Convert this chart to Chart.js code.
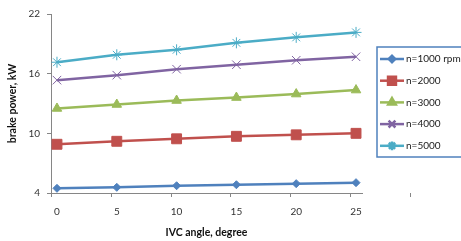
<!DOCTYPE html>
<html>
<head>
<meta charset="utf-8">
<script src="https://cdn.jsdelivr.net/npm/chart.js@4.4.0/dist/chart.umd.min.js"></script>
<style>
  html, body { margin: 0; padding: 0; background: #fff; }
  #wrap { width: 461px; height: 241px; }
</style>
</head>
<body>
<div id="wrap"><canvas id="chart"></canvas></div>
<script>
// x categories (IVC angle, degree)
const angles = [0, 5, 10, 15, 20, 25];
// brake power, kW
const n1000 = [4.47, 4.57, 4.73, 4.83, 4.94, 5.04];
const n2000 = [8.9, 9.2, 9.45, 9.7, 9.85, 10.0];
const n3000 = [12.5, 12.9, 13.3, 13.6, 13.95, 14.35];
const n4000 = [15.35, 15.85, 16.45, 16.9, 17.35, 17.7];
const n5000 = [17.15, 17.9, 18.4, 19.1, 19.65, 20.15];
const seriesLabels = ['n=1000 rpm', 'n=2000', 'n=3000', 'n=4000', 'n=5000'];
const yTicks = [4, 10, 16, 22];

const font = 'Lato, "Open Sans", sans-serif';

function pts(vals) {
  return vals.map((v, i) => ({ x: angles[i], y: v }));
}

function series(label, vals, color, style, radius, bw) {
  return {
    label: label,
    data: pts(vals),
    borderColor: color,
    backgroundColor: color,
    borderWidth: 2.5,
    pointStyle: style,
    pointRadius: radius,
    pointHoverRadius: radius,
    pointBorderWidth: bw,
    pointBorderColor: color,
    pointBackgroundColor: color,
    tension: 0
  };
}

// excel puts the x tick marks half a unit left of each point
const xTickMarks = {
  id: 'xTickMarks',
  afterDraw(chart) {
    const ctx = chart.ctx;
    const xs = chart.scales.x;
    const yb = chart.chartArea.bottom;
    ctx.save();
    ctx.strokeStyle = '#868686';
    ctx.lineWidth = 1;
    angles.concat([angles[angles.length - 1] + 5]).forEach(a => {
      const px = Math.round(xs.getPixelForValue(a - 0.5)) + 0.5;
      ctx.beginPath();
      ctx.moveTo(px, yb);
      ctx.lineTo(px, yb + 4);
      ctx.stroke();
    });
    ctx.restore();
  }
};

// boxed legend on the right, partly cut off like the original
const boxLegend = {
  id: 'boxLegend',
  afterDraw(chart) {
    const ctx = chart.ctx;
    const x0 = 377, y0 = 47, w = 100, h = 110;
    ctx.save();
    ctx.strokeStyle = '#4f81bd';
    ctx.lineWidth = 1.5;
    ctx.strokeRect(x0, y0, w, h);
    chart.data.datasets.forEach((ds, i) => {
      const y = 59 + i * 21.7;
      ctx.strokeStyle = ds.borderColor;
      ctx.fillStyle = ds.borderColor;
      ctx.lineWidth = 2.5;
      ctx.beginPath();
      ctx.moveTo(380, y);
      ctx.lineTo(404, y);
      ctx.stroke();
      Chart.helpers.drawPoint(ctx, {
        pointStyle: ds.pointStyle,
        radius: ds.pointRadius * 0.8,
        borderWidth: ds.pointBorderWidth,
        rotation: 0
      }, 392, y);
      ctx.fillStyle = '#222';
      ctx.font = '10px ' + font;
      ctx.textBaseline = 'middle';
      ctx.textAlign = 'left';
      ctx.fillText(ds.label, 406, y);
    });
    ctx.restore();
  }
};

new Chart(document.getElementById('chart'), {
  type: 'line',
  data: {
    datasets: [
      series(seriesLabels[0], n1000, '#4f81bd', 'rectRot', 4, 1),
      series(seriesLabels[1], n2000, '#c0504d', 'rect', 7, 1),
      series(seriesLabels[2], n3000, '#9bbb59', 'triangle', 5.5, 1),
      series(seriesLabels[3], n4000, '#8064a2', 'crossRot', 6, 1),
      series(seriesLabels[4], n5000, '#4bacc6', 'star', 5.5, 1)
    ]
  },
  options: {
    responsive: true,
    maintainAspectRatio: false,
    animation: false,
    layout: { padding: { left: 0, right: 99, top: 14, bottom: 0 } },
    plugins: {
      legend: { display: false },
      tooltip: { enabled: false }
    },
    scales: {
      x: {
        type: 'linear',
        min: -0.5,
        max: 25.5,
        afterBuildTicks: s => { s.ticks = angles.map(v => ({ value: v })); },
        afterFit: s => { s.height = 48; },
        border: { color: '#868686', width: 1 },
        grid: { display: true, drawOnChartArea: false, drawTicks: false, tickLength: 4 },
        ticks: { color: '#333', font: { family: font, size: 10 }, padding: 13, maxRotation: 0 },
        title: {
          display: true,
          text: 'IVC angle, degree',
          color: '#111',
          font: { family: font, size: 10.5, weight: 'bold' },
          padding: { top: 0, bottom: 2 }
        }
      },
      y: {
        min: 4,
        max: 22,
        afterBuildTicks: s => { s.ticks = yTicks.map(v => ({ value: v })); },
        afterFit: s => { s.width = 51; },
        border: { color: '#868686', width: 1 },
        grid: { display: true, drawOnChartArea: false, tickLength: 4, color: '#868686' },
        ticks: { color: '#333', font: { family: font, size: 10 }, padding: 7 },
        title: {
          display: true,
          text: 'brake power, kW',
          color: '#111',
          font: { family: font, size: 10.5, weight: 'bold' },
          padding: { top: 6, bottom: 0 }
        }
      }
    }
  },
  plugins: [xTickMarks, boxLegend]
});
</script>
</body>
</html>
